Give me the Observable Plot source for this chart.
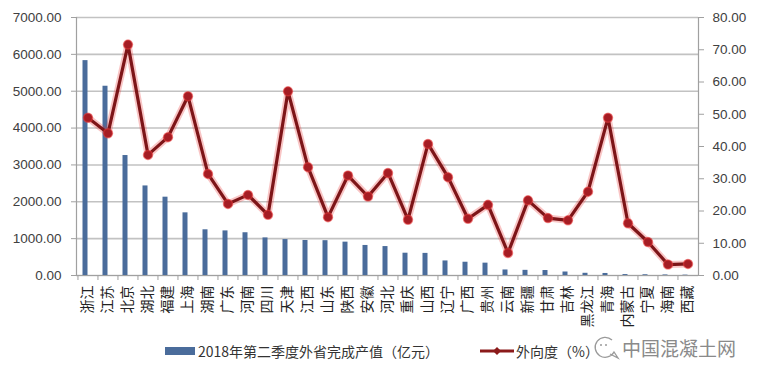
<!DOCTYPE html>
<html>
<head>
<meta charset="utf-8">
<script src="https://cdn.jsdelivr.net/npm/d3@7"></script>
<script src="https://cdn.jsdelivr.net/npm/@observablehq/plot@0.6"></script>
<style>
  html, body { margin: 0; padding: 0; background: #fff; }
  #wrap { position: relative; width: 760px; height: 375px; overflow: hidden; }
  #legend { position: absolute; left: 0; top: 335px; width: 760px; height: 40px;
            font-family: "Noto Sans CJK SC", "Liberation Sans", sans-serif; font-size: 14px; color: #333; }
  .item { position: absolute; top: 5px; display: flex; align-items: center; height: 22px; white-space: nowrap; }
  .wm { position: absolute; top: -3px; left: 590px; display: flex; align-items: center; color: #8a8a8a;
        font-size: 19px; white-space: nowrap; }
</style>
</head>
<body>
<div id="wrap"><div id="chart"></div><div id="legend"></div></div>
<script>
// ---- data ----
const provinces = ["浙江","江苏","北京","湖北","福建","上海","湖南","广东","河南","四川","天津","江西","山东","陕西","安徽","河北","重庆","山西","辽宁","广西","贵州","云南","新疆","甘肃","吉林","黑龙江","青海","内蒙古","宁夏","海南","西藏"];
const output = [5830,5135,3255,2430,2125,1700,1240,1210,1160,1020,975,950,945,905,815,785,605,600,395,360,335,150,140,135,95,60,55,25,20,15,10];
const outward = [48.9,44.1,71.6,37.4,42.9,55.6,31.5,22.2,25.0,18.8,57.1,33.6,18.1,31.0,24.5,31.8,17.3,40.8,30.5,17.6,21.9,7.0,23.3,17.8,17.1,26.0,48.9,16.2,10.4,3.4,3.6];
const leftTicks = [0,1000,2000,3000,4000,5000,6000,7000];
const rightTicks = [0,10,20,30,40,50,60,70,80];
const legendBar = "2018年第二季度外省完成产值（亿元）";
const legendLine = "外向度（%）";
const watermark = "中国混凝土网";

const leftMax = 7000, rightMax = 80;
const k = leftMax / rightMax;
const rows = provinces.map((p, i) => ({prov: p, output: output[i], outward: outward[i]}));

const W = 760, H = 335, mL = 76, mR = 62;
const step = (W - mL - mR) / provinces.length;

const chart = Plot.plot({
  width: W, height: H,
  marginLeft: mL, marginRight: mR, marginTop: 17, marginBottom: 60,
  style: {fontFamily: "'Liberation Sans', Arial, sans-serif", fontSize: "13.5px", color: "#404040", background: "#fff", overflow: "visible"},
  x: {domain: provinces, paddingInner: 0.75, paddingOuter: 0.375, label: null},
  y: {domain: [0, leftMax], label: null},
  marks: [
    Plot.gridY(leftTicks, {stroke: "#c2c2c2", strokeOpacity: 1, strokeWidth: 1.6}),
    Plot.frame({anchor: "left", stroke: "#a0a0a0", strokeWidth: 1.2}),
    Plot.frame({anchor: "right", stroke: "#a0a0a0", strokeWidth: 1.2}),
    Plot.ruleY([0], {stroke: "#a0a0a0", strokeWidth: 1.2}),
    Plot.barY(rows, {x: "prov", y: "output", fill: "#4a6c9b", dx: -2.5}),
    Plot.axisY(leftTicks, {anchor: "left", tickSize: 5, tickPadding: 10, tickFormat: d => d.toFixed(2), label: null, stroke: "#a0a0a0"}),
    Plot.axisY(rightTicks, {anchor: "right", y: d => d * k, tickSize: 5, tickPadding: 9, tickFormat: d => d.toFixed(2), label: null, stroke: "#a0a0a0"}),
    Plot.axisX({tickSize: 5, dx: -step / 2, tickFormat: () => "", label: null, stroke: "#a0a0a0"}),
    Plot.axisX({tickSize: 0, tickPadding: 10, tickRotate: -90, label: null,
                fontFamily: "'Noto Sans CJK SC', sans-serif", fontSize: 14, fill: "#222"}),
    Plot.line(rows, {x: "prov", y: d => d.outward * k, stroke: "#e82e2e", strokeWidth: 7, strokeOpacity: 0.28}),
    Plot.line(rows, {x: "prov", y: d => d.outward * k, stroke: "#7d1518", strokeWidth: 3.2}),
    Plot.dot(rows, {x: "prov", y: d => d.outward * k, r: 4.5, fill: "#a51d24", stroke: "#e83a3a", strokeOpacity: 0.55, strokeWidth: 1.5})
  ]
});
document.getElementById("chart").appendChild(chart);

const legend = document.getElementById("legend");
legend.innerHTML = `
  <div class="item" style="left:165px">
    <span style="display:inline-block;width:30px;height:8px;background:#4a6c9b;margin-right:3px"></span>${legendBar}
  </div>
  <div class="item" style="left:480px">
    <svg width="34" height="10" style="margin-right:2px"><line x1="0" y1="5" x2="34" y2="5" stroke="#8b1a1a" stroke-width="3"/><path d="M17 1 L21 5 L17 9 L13 5 Z" fill="#8b1a1a"/></svg>${legendLine}
  </div>
  <div class="wm">
    <svg width="30" height="30"><path d="M22 8 A10 10 0 1 0 24 20 L28 26 L20 22" fill="none" stroke="#9a9a9a" stroke-width="1.3"/><circle cx="11" cy="13" r="1" fill="#9a9a9a"/><circle cx="16" cy="13" r="1" fill="#9a9a9a"/></svg>
    <span style="margin-left:2px">${watermark}</span>
  </div>`;
</script>
</body>
</html>
